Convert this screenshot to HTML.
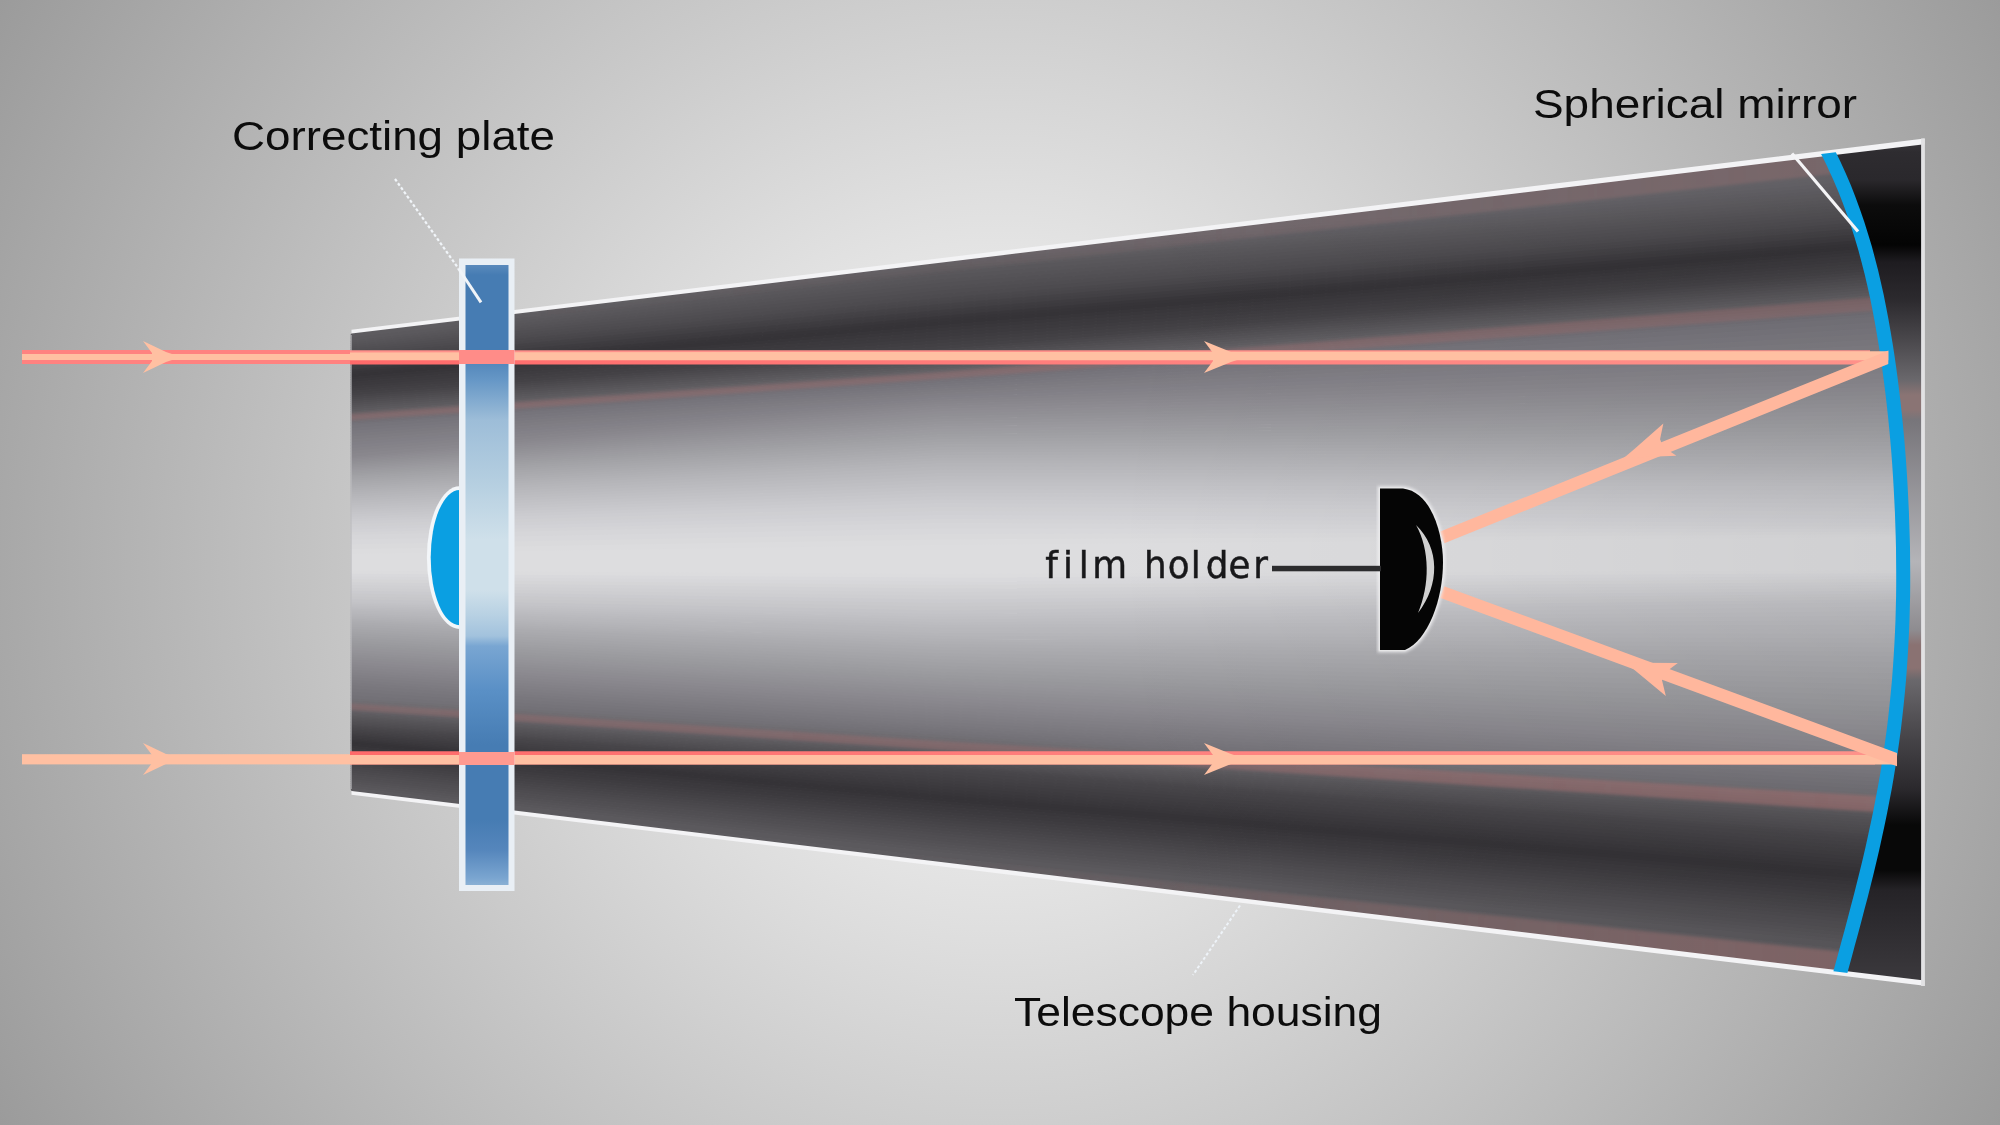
<!DOCTYPE html>
<html lang="en"><head><meta charset="utf-8"><title>Schmidt telescope</title>
<style>html,body{margin:0;padding:0;background:#b0b0b0}body{width:2000px;height:1125px;overflow:hidden}svg{display:block}</style>
</head><body>
<svg width="2000" height="1125" viewBox="0 0 2000 1125">
<defs>
<radialGradient id="bg" gradientUnits="userSpaceOnUse" cx="1000" cy="562" r="1147"><stop offset="0" stop-color="#ffffff"/><stop offset="1" stop-color="#9b9b9b"/></radialGradient>
<linearGradient id="bm" gradientUnits="userSpaceOnUse" x1="0" y1="140" x2="0" y2="985"><stop offset="0.0000" stop-color="#3c3a3e"/><stop offset="0.0142" stop-color="#2e2c30"/><stop offset="0.0473" stop-color="#2a282c"/><stop offset="0.0769" stop-color="#0c0c0c"/><stop offset="0.1243" stop-color="#040404"/><stop offset="0.1444" stop-color="#1e1c20"/><stop offset="0.1893" stop-color="#2c2a2e"/><stop offset="0.2367" stop-color="#4a484c"/><stop offset="0.2840" stop-color="#6a686c"/><stop offset="0.3018" stop-color="#8a7474"/><stop offset="0.3195" stop-color="#8a7474"/><stop offset="0.3314" stop-color="#77757a"/><stop offset="0.4994" stop-color="#b4b4b8"/><stop offset="0.5799" stop-color="#8e8c90"/><stop offset="0.5976" stop-color="#8a7272"/><stop offset="0.6249" stop-color="#8a7272"/><stop offset="0.6391" stop-color="#6a686c"/><stop offset="0.7101" stop-color="#454347"/><stop offset="0.7692" stop-color="#2a282c"/><stop offset="0.8107" stop-color="#080808"/><stop offset="0.8639" stop-color="#080808"/><stop offset="0.8876" stop-color="#252327"/><stop offset="1.0000" stop-color="#3c3a3e"/></linearGradient>
<linearGradient id="pl" gradientUnits="userSpaceOnUse" x1="0" y1="265" x2="0" y2="885"><stop offset="0.0000" stop-color="#5a8abc"/><stop offset="0.0161" stop-color="#467cb3"/><stop offset="0.1371" stop-color="#467cb3"/><stop offset="0.1855" stop-color="#6697c6"/><stop offset="0.2500" stop-color="#9dbdd8"/><stop offset="0.3468" stop-color="#b4cee0"/><stop offset="0.4435" stop-color="#cfe0ea"/><stop offset="0.5242" stop-color="#cfe0ea"/><stop offset="0.5645" stop-color="#b8d1e3"/><stop offset="0.5984" stop-color="#a2c2dd"/><stop offset="0.6145" stop-color="#79a6d2"/><stop offset="0.6855" stop-color="#5a90c6"/><stop offset="0.7742" stop-color="#467cb3"/><stop offset="0.8952" stop-color="#467cb3"/><stop offset="0.9435" stop-color="#5586bc"/><stop offset="0.9887" stop-color="#7aa5d0"/><stop offset="1.0000" stop-color="#8ab0d4"/></linearGradient>
<linearGradient id="pf" gradientUnits="userSpaceOnUse" x1="500" y1="0" x2="1900" y2="0"><stop offset="0" stop-color="#a87878" stop-opacity="0"/><stop offset="0.3" stop-color="#a87878" stop-opacity="0.06"/><stop offset="0.6" stop-color="#a87878" stop-opacity="0.2"/><stop offset="0.85" stop-color="#a87878" stop-opacity="0.33"/><stop offset="1" stop-color="#a87878" stop-opacity="0.38"/></linearGradient>
<linearGradient id="dk" gradientUnits="userSpaceOnUse" x1="1100" y1="0" x2="1900" y2="0"><stop offset="0" stop-color="#000" stop-opacity="0"/><stop offset="1" stop-color="#000" stop-opacity="0.06"/></linearGradient>
<linearGradient id="re" gradientUnits="userSpaceOnUse" x1="350" y1="0" x2="1890" y2="0"><stop offset="0" stop-color="#ff6a6a"/><stop offset="0.5" stop-color="#ff807e"/><stop offset="1" stop-color="#ff928a"/></linearGradient>
<linearGradient id="pl2" gradientUnits="userSpaceOnUse" x1="350" y1="0" x2="1890" y2="0"><stop offset="0" stop-color="#a87070" stop-opacity="0.34"/><stop offset="0.5" stop-color="#a87070" stop-opacity="0.4"/><stop offset="1" stop-color="#b07676" stop-opacity="0.55"/></linearGradient>
<linearGradient id="pfb" gradientUnits="userSpaceOnUse" x1="900" y1="0" x2="1900" y2="0"><stop offset="0" stop-color="#a47474" stop-opacity="0"/><stop offset="0.2" stop-color="#a47474" stop-opacity="0.1"/><stop offset="0.45" stop-color="#a47474" stop-opacity="0.3"/><stop offset="0.85" stop-color="#a47474" stop-opacity="0.52"/><stop offset="1" stop-color="#a47474" stop-opacity="0.56"/></linearGradient>
<filter id="bl" x="-5%" y="-5%" width="110%" height="110%"><feGaussianBlur stdDeviation="1.6"/></filter>
<filter id="bl2" x="-10%" y="-10%" width="120%" height="120%"><feGaussianBlur stdDeviation="0.7"/></filter>
<clipPath id="hc"><path d="M354 332.2 L1924 141.6 L1924 982.2 L354 792 Q350.5 791.5 350.5 788 L350.5 336 Q350.5 332.6 354 332.2z"/></clipPath>
</defs>
<rect width="2000" height="1125" fill="url(#bg)"/>
<g clip-path="url(#hc)">
<path fill="#67656a" d="M340 295.2L940 235.0L1932 129.6V172.7L940 255.8L340 320.4z"/>
<path fill="#666469" d="M340 319.6L940 255.0L1932 171.9V176.0L940 258.2L340 323.6z"/>
<path fill="#646267" d="M340 322.8L940 257.4L1932 175.2V179.3L940 260.7L340 326.8z"/>
<path fill="#626065" d="M340 326.0L940 259.9L1932 178.5V182.7L940 263.1L340 330.0z"/>
<path fill="#605e63" d="M340 329.2L940 262.3L1932 181.9V186.0L940 265.5L340 333.2z"/>
<path fill="#5f5d61" d="M340 332.4L940 264.7L1932 185.2V189.3L940 267.9L340 336.5z"/>
<path fill="#5d5b5f" d="M340 335.7L940 267.1L1932 188.5V192.6L940 270.4L340 339.7z"/>
<path fill="#5b595d" d="M340 338.9L940 269.6L1932 191.8V195.9L940 272.8L340 342.9z"/>
<path fill="#59575b" d="M340 342.1L940 272.0L1932 195.1V198.9L940 276.5L340 344.9z"/>
<path fill="#575559" d="M340 344.1L940 275.7L1932 198.1V201.9L940 280.2L340 346.9z"/>
<path fill="#555357" d="M340 346.1L940 279.4L1932 201.1V204.9L940 283.9L340 348.9z"/>
<path fill="#535155" d="M340 348.1L940 283.1L1932 204.1V207.9L940 287.7L340 350.8z"/>
<path fill="#514f53" d="M340 350.0L940 286.9L1932 207.1V210.9L940 291.4L340 352.8z"/>
<path fill="#4f4d51" d="M340 352.0L940 290.6L1932 210.1V214.0L940 295.1L340 354.8z"/>
<path fill="#4d4b4f" d="M340 354.0L940 294.3L1932 213.2V217.0L940 298.8L340 356.8z"/>
<path fill="#4a484c" d="M340 356.0L940 298.0L1932 216.2V220.0L940 301.8L340 359.3z"/>
<path fill="#48464a" d="M340 358.5L940 301.0L1932 219.2V223.0L940 304.8L340 361.7z"/>
<path fill="#444246" d="M340 360.9L940 304.0L1932 222.2V226.0L940 307.8L340 364.2z"/>
<path fill="#424044" d="M340 363.4L940 307.0L1932 225.2V229.0L940 310.8L340 366.6z"/>
<path fill="#3e3c40" d="M340 365.8L940 310.0L1932 228.2V232.0L940 313.8L340 369.1z"/>
<path fill="#3c3a3e" d="M340 368.3L940 313.0L1932 231.2V235.0L940 316.8L340 371.5z"/>
<path fill="#38363a" d="M340 370.7L940 316.0L1932 234.2V238.0L940 319.8L340 374.0z"/>
<path fill="#363438" d="M340 373.2L940 319.0L1932 237.2V241.0L940 322.8L340 376.4z"/>
<path fill="#353337" d="M340 375.6L940 322.0L1932 240.2V243.8L940 325.8L340 378.7z"/>
<path fill="#373539" d="M340 377.9L940 325.0L1932 243.0V246.7L940 328.8L340 381.0z"/>
<path fill="#39373b" d="M340 380.2L940 328.0L1932 245.9V249.5L940 331.8L340 383.3z"/>
<path fill="#3b393d" d="M340 382.5L940 331.0L1932 248.7V252.4L940 334.8L340 385.5z"/>
<path fill="#3c3a3e" d="M340 384.7L940 334.0L1932 251.6V255.3L940 337.8L340 387.8z"/>
<path fill="#3e3c40" d="M340 387.0L940 337.0L1932 254.5V258.1L940 340.8L340 390.1z"/>
<path fill="#403e42" d="M340 389.3L940 340.0L1932 257.3V261.0L940 343.8L340 392.3z"/>
<path fill="#424044" d="M340 391.5L940 343.0L1932 260.2V263.9L940 346.8L340 394.6z"/>
<path fill="#444246" d="M340 393.8L940 346.0L1932 263.1V266.7L940 349.8L340 396.9z"/>
<path fill="#474549" d="M340 396.1L940 349.0L1932 265.9V269.4L940 352.1L340 398.9z"/>
<path fill="#4a484c" d="M340 398.1L940 351.2L1932 268.6V272.2L940 354.3L340 400.8z"/>
<path fill="#4d4b4f" d="M340 400.0L940 353.5L1932 271.4V274.9L940 356.6L340 402.8z"/>
<path fill="#504e52" d="M340 402.0L940 355.8L1932 274.1V277.6L940 358.8L340 404.8z"/>
<path fill="#535155" d="M340 404.0L940 358.0L1932 276.8V280.3L940 361.1L340 406.8z"/>
<path fill="#565458" d="M340 406.0L940 360.2L1932 279.5V283.0L940 363.3L340 408.7z"/>
<path fill="#59575b" d="M340 407.9L940 362.5L1932 282.2V285.7L940 365.6L340 410.7z"/>
<path fill="#5c5a5e" d="M340 409.9L940 364.8L1932 284.9V288.4L940 367.8L340 412.7z"/>
<path fill="#5f5d61" d="M340 411.9L940 367.0L1932 287.6V291.2L940 369.5L340 414.2z"/>
<path fill="#626064" d="M340 413.4L940 368.7L1932 290.4V294.0L940 371.1L340 415.8z"/>
<path fill="#646267" d="M340 415.0L940 370.3L1932 293.2V296.7L940 372.8L340 417.3z"/>
<path fill="#67656a" d="M340 416.5L940 372.0L1932 295.9V299.5L940 374.5L340 418.9z"/>
<path fill="#6a686d" d="M340 418.1L940 373.7L1932 298.7V302.3L940 376.1L340 420.4z"/>
<path fill="#6c6a70" d="M340 419.6L940 375.3L1932 301.5V305.1L940 377.8L340 422.0z"/>
<path fill="#6f6d73" d="M340 421.2L940 377.0L1932 304.3V307.8L940 379.5L340 423.5z"/>
<path fill="#716f76" d="M340 422.7L940 378.7L1932 307.0V310.6L940 381.1L340 425.1z"/>
<path fill="#747279" d="M340 424.3L940 380.3L1932 309.8V313.4L940 382.8L340 426.6z"/>
<path fill="#76747b" d="M340 425.8L940 382.0L1932 312.6V319.3L940 385.0L340 429.5z"/>
<path fill="#78767d" d="M340 428.7L940 384.2L1932 318.5V325.2L940 387.2L340 432.4z"/>
<path fill="#7a787f" d="M340 431.6L940 386.4L1932 324.4V331.1L940 389.3L340 435.2z"/>
<path fill="#7c7a80" d="M340 434.4L940 388.5L1932 330.3V337.0L940 391.5L340 438.1z"/>
<path fill="#7e7c82" d="M340 437.3L940 390.7L1932 336.2V342.9L940 393.7L340 441.0z"/>
<path fill="#807e84" d="M340 440.2L940 392.9L1932 342.1V348.8L940 395.9L340 443.9z"/>
<path fill="#817f86" d="M340 443.1L940 395.1L1932 348.0V354.7L940 398.1L340 446.7z"/>
<path fill="#838188" d="M340 445.9L940 397.3L1932 353.9V360.6L940 400.3L340 449.6z"/>
<path fill="#858389" d="M340 448.8L940 399.5L1932 359.8V366.5L940 402.4L340 452.5z"/>
<path fill="#87858b" d="M340 451.7L940 401.6L1932 365.7V372.4L940 404.6L340 455.4z"/>
<path fill="#89878d" d="M340 454.6L940 403.8L1932 371.6V378.3L940 406.8L340 458.3z"/>
<path fill="#8b898f" d="M340 457.5L940 406.0L1932 377.5V382.3L940 409.3L340 459.8z"/>
<path fill="#8d8b91" d="M340 459.0L940 408.5L1932 381.5V386.4L940 411.9L340 461.3z"/>
<path fill="#8f8d93" d="M340 460.5L940 411.1L1932 385.6V390.5L940 414.4L340 462.8z"/>
<path fill="#908f94" d="M340 462.0L940 413.6L1932 389.7V394.5L940 417.0L340 464.4z"/>
<path fill="#929196" d="M340 463.6L940 416.2L1932 393.7V398.6L940 419.5L340 465.9z"/>
<path fill="#949398" d="M340 465.1L940 418.7L1932 397.8V402.7L940 422.0L340 467.4z"/>
<path fill="#96959a" d="M340 466.6L940 421.2L1932 401.9V406.7L940 424.6L340 469.0z"/>
<path fill="#98979c" d="M340 468.2L940 423.8L1932 405.9V410.8L940 427.1L340 470.5z"/>
<path fill="#9a999e" d="M340 469.7L940 426.3L1932 410.0V414.9L940 429.6L340 472.0z"/>
<path fill="#9c9ba0" d="M340 471.2L940 428.8L1932 414.1V418.9L940 432.2L340 473.5z"/>
<path fill="#9d9da1" d="M340 472.7L940 431.4L1932 418.1V423.0L940 434.7L340 475.1z"/>
<path fill="#9f9fa3" d="M340 474.3L940 433.9L1932 422.2V427.1L940 437.3L340 476.6z"/>
<path fill="#a1a1a5" d="M340 475.8L940 436.5L1932 426.3V431.1L940 439.8L340 478.1z"/>
<path fill="#a3a3a7" d="M340 477.3L940 439.0L1932 430.3V434.9L940 442.5L340 480.1z"/>
<path fill="#a5a5a9" d="M340 479.3L940 441.7L1932 434.1V438.7L940 445.1L340 482.0z"/>
<path fill="#a7a7ab" d="M340 481.2L940 444.3L1932 437.9V442.4L940 447.8L340 483.9z"/>
<path fill="#a9a9ad" d="M340 483.1L940 447.0L1932 441.6V446.2L940 450.5L340 485.9z"/>
<path fill="#ababaf" d="M340 485.1L940 449.7L1932 445.4V450.0L940 453.1L340 487.8z"/>
<path fill="#adadb1" d="M340 487.0L940 452.3L1932 449.2V453.7L940 455.8L340 489.7z"/>
<path fill="#afafb3" d="M340 488.9L940 455.0L1932 452.9V457.5L940 458.5L340 491.7z"/>
<path fill="#b1b1b5" d="M340 490.9L940 457.7L1932 456.7V461.3L940 461.1L340 493.6z"/>
<path fill="#b3b3b7" d="M340 492.8L940 460.3L1932 460.5V465.0L940 463.8L340 495.6z"/>
<path fill="#b5b5b9" d="M340 494.8L940 463.0L1932 464.2V468.1L940 467.1L340 497.7z"/>
<path fill="#b7b7bb" d="M340 496.9L940 466.3L1932 467.3V471.3L940 470.4L340 499.9z"/>
<path fill="#b9b9bd" d="M340 499.1L940 469.6L1932 470.5V474.4L940 473.7L340 502.1z"/>
<path fill="#bbbbbf" d="M340 501.3L940 472.9L1932 473.6V477.5L940 476.9L340 504.3z"/>
<path fill="#bdbdc1" d="M340 503.5L940 476.1L1932 476.7V480.6L940 480.2L340 506.5z"/>
<path fill="#bfbfc3" d="M340 505.7L940 479.4L1932 479.8V483.7L940 483.5L340 508.7z"/>
<path fill="#c1c1c5" d="M340 507.9L940 482.7L1932 482.9V486.8L940 486.8L340 510.9z"/>
<path fill="#c3c3c7" d="M340 510.1L940 486.0L1932 486.0V491.2L940 490.2L340 513.2z"/>
<path fill="#c5c5c9" d="M340 512.4L940 489.4L1932 490.4V495.6L940 493.6L340 515.5z"/>
<path fill="#c7c7cb" d="M340 514.7L940 492.8L1932 494.8V500.0L940 497.0L340 517.8z"/>
<path fill="#c9c9cd" d="M340 517.0L940 496.2L1932 499.2V504.4L940 500.4L340 520.1z"/>
<path fill="#cbcbcf" d="M340 519.3L940 499.6L1932 503.6V508.8L940 503.8L340 522.4z"/>
<path fill="#cdcdd1" d="M340 521.6L940 503.0L1932 508.0V512.5L940 507.8L340 525.1z"/>
<path fill="#cfcfd2" d="M340 524.3L940 507.0L1932 511.7V516.3L940 511.8L340 527.8z"/>
<path fill="#d0d0d4" d="M340 527.0L940 511.0L1932 515.5V520.0L940 515.8L340 530.5z"/>
<path fill="#d2d2d6" d="M340 529.7L940 515.0L1932 519.2V523.8L940 519.8L340 533.2z"/>
<path fill="#d4d4d7" d="M340 532.4L940 519.0L1932 523.0V527.5L940 523.8L340 535.8z"/>
<path fill="#d6d6d9" d="M340 535.0L940 523.0L1932 526.7V529.9L940 529.3L340 540.5z"/>
<path fill="#d8d8db" d="M340 539.7L940 528.5L1932 529.1V532.3L940 534.8L340 545.2z"/>
<path fill="#dadadc" d="M340 544.4L940 534.0L1932 531.5V534.7L940 540.3L340 549.9z"/>
<path fill="#dcdcde" d="M340 549.1L940 539.5L1932 533.9V537.1L940 545.8L340 554.6z"/>
<path fill="#dddddf" d="M340 553.8L940 545.0L1932 536.3V571.1L940 574.8L340 571.5z"/>
<path fill="#dcdcde" d="M340 570.7L940 574.0L1932 570.3V573.9L940 578.4L340 574.4z"/>
<path fill="#d9d9dc" d="M340 573.6L940 577.6L1932 573.1V576.8L940 582.1L340 577.2z"/>
<path fill="#d7d7da" d="M340 576.4L940 581.3L1932 576.0V579.6L940 585.7L340 580.0z"/>
<path fill="#d5d5d7" d="M340 579.2L940 584.9L1932 578.8V582.5L940 589.3L340 582.9z"/>
<path fill="#d2d2d5" d="M340 582.1L940 588.5L1932 581.7V585.3L940 593.0L340 585.7z"/>
<path fill="#d0d0d3" d="M340 584.9L940 592.2L1932 584.5V588.2L940 596.6L340 588.6z"/>
<path fill="#ceced1" d="M340 587.8L940 595.8L1932 587.4V591.0L940 600.3L340 591.4z"/>
<path fill="#cbcbcf" d="M340 590.6L940 599.5L1932 590.2V593.9L940 603.9L340 594.2z"/>
<path fill="#c9c9cc" d="M340 593.4L940 603.1L1932 593.1V596.7L940 607.5L340 597.1z"/>
<path fill="#c7c7ca" d="M340 596.3L940 606.7L1932 595.9V599.6L940 611.2L340 599.9z"/>
<path fill="#c4c4c8" d="M340 599.1L940 610.4L1932 598.8V602.4L940 614.8L340 602.8z"/>
<path fill="#c2c2c6" d="M340 602.0L940 614.0L1932 601.6V607.0L940 617.5L340 604.4z"/>
<path fill="#c0c0c4" d="M340 603.6L940 616.8L1932 606.2V611.6L940 620.3L340 606.1z"/>
<path fill="#bebec2" d="M340 605.3L940 619.5L1932 610.8V616.2L940 623.0L340 607.7z"/>
<path fill="#bcbcc0" d="M340 606.9L940 622.2L1932 615.4V620.8L940 625.8L340 609.4z"/>
<path fill="#bababe" d="M340 608.6L940 625.0L1932 620.0V625.4L940 628.5L340 611.0z"/>
<path fill="#b8b8bc" d="M340 610.2L940 627.8L1932 624.6V630.1L940 631.3L340 612.7z"/>
<path fill="#b7b7bb" d="M340 611.9L940 630.5L1932 629.3V634.7L940 634.0L340 614.3z"/>
<path fill="#b5b5b9" d="M340 613.5L940 633.2L1932 633.9V639.3L940 636.8L340 616.0z"/>
<path fill="#b3b3b7" d="M340 615.2L940 636.0L1932 638.5V643.9L940 639.5L340 617.7z"/>
<path fill="#b1b1b5" d="M340 616.9L940 638.8L1932 643.1V648.5L940 642.3L340 619.3z"/>
<path fill="#afafb3" d="M340 618.5L940 641.5L1932 647.7V653.1L940 645.0L340 621.0z"/>
<path fill="#adadb1" d="M340 620.2L940 644.2L1932 652.3V657.7L940 647.8L340 622.6z"/>
<path fill="#ababaf" d="M340 621.8L940 647.0L1932 656.9V663.4L940 650.9L340 624.9z"/>
<path fill="#a9a9ad" d="M340 624.1L940 650.1L1932 662.6V669.2L940 654.0L340 627.1z"/>
<path fill="#a7a7ab" d="M340 626.3L940 653.2L1932 668.4V674.9L940 657.1L340 629.4z"/>
<path fill="#a5a5a9" d="M340 628.6L940 656.3L1932 674.1V680.6L940 660.2L340 631.7z"/>
<path fill="#a3a3a7" d="M340 630.9L940 659.4L1932 679.8V686.4L940 663.4L340 633.9z"/>
<path fill="#a1a1a5" d="M340 633.1L940 662.6L1932 685.6V692.1L940 666.5L340 636.2z"/>
<path fill="#9f9fa3" d="M340 635.4L940 665.7L1932 691.3V697.8L940 669.6L340 638.4z"/>
<path fill="#9d9da1" d="M340 637.6L940 668.8L1932 697.0V703.6L940 672.7L340 640.7z"/>
<path fill="#9b9b9f" d="M340 639.9L940 671.9L1932 702.8V709.3L940 675.8L340 643.0z"/>
<path fill="#99999d" d="M340 642.2L940 675.0L1932 708.5V714.1L940 678.7L340 645.4z"/>
<path fill="#97979b" d="M340 644.6L940 677.9L1932 713.3V718.9L940 681.6L340 647.8z"/>
<path fill="#96959a" d="M340 647.0L940 680.8L1932 718.1V723.7L940 684.5L340 650.2z"/>
<path fill="#949398" d="M340 649.4L940 683.7L1932 722.9V728.6L940 687.4L340 652.6z"/>
<path fill="#929196" d="M340 651.8L940 686.6L1932 727.8V733.4L940 690.2L340 655.0z"/>
<path fill="#908f94" d="M340 654.2L940 689.4L1932 732.6V738.2L940 693.1L340 657.4z"/>
<path fill="#8e8d92" d="M340 656.6L940 692.3L1932 737.4V743.0L940 696.0L340 659.8z"/>
<path fill="#8d8b91" d="M340 659.0L940 695.2L1932 742.2V747.8L940 698.9L340 662.2z"/>
<path fill="#8b898f" d="M340 661.4L940 698.1L1932 747.0V752.6L940 701.8L340 664.6z"/>
<path fill="#89878d" d="M340 663.8L940 701.0L1932 751.8V756.3L940 704.8L340 667.2z"/>
<path fill="#87858b" d="M340 666.4L940 704.0L1932 755.5V759.9L940 707.8L340 669.8z"/>
<path fill="#858389" d="M340 669.0L940 707.0L1932 759.1V763.5L940 710.8L340 672.3z"/>
<path fill="#838187" d="M340 671.5L940 710.0L1932 762.7V767.1L940 713.8L340 674.9z"/>
<path fill="#817f85" d="M340 674.1L940 713.0L1932 766.3V770.7L940 716.8L340 677.5z"/>
<path fill="#7f7d83" d="M340 676.7L940 716.0L1932 769.9V774.4L940 719.8L340 680.1z"/>
<path fill="#7d7b81" d="M340 679.3L940 719.0L1932 773.6V778.0L940 722.8L340 682.7z"/>
<path fill="#7b797f" d="M340 681.9L940 722.0L1932 777.2V781.6L940 725.8L340 685.3z"/>
<path fill="#79777d" d="M340 684.5L940 725.0L1932 780.8V785.6L940 728.3L340 688.6z"/>
<path fill="#77757b" d="M340 687.8L940 727.5L1932 784.8V789.7L940 730.8L340 691.9z"/>
<path fill="#757379" d="M340 691.1L940 730.0L1932 788.9V793.8L940 733.3L340 695.3z"/>
<path fill="#737177" d="M340 694.5L940 732.5L1932 793.0V797.8L940 735.8L340 698.6z"/>
<path fill="#716f74" d="M340 697.8L940 735.0L1932 797.0V800.4L940 738.2L340 700.7z"/>
<path fill="#6e6c71" d="M340 699.9L940 737.4L1932 799.6V803.0L940 740.7L340 702.8z"/>
<path fill="#6b696e" d="M340 702.0L940 739.9L1932 802.2V805.6L940 743.1L340 704.9z"/>
<path fill="#68666b" d="M340 704.1L940 742.3L1932 804.8V808.2L940 745.5L340 707.0z"/>
<path fill="#656368" d="M340 706.2L940 744.7L1932 807.4V810.8L940 747.9L340 709.2z"/>
<path fill="#626065" d="M340 708.4L940 747.1L1932 810.0V813.4L940 750.4L340 711.3z"/>
<path fill="#5f5d62" d="M340 710.5L940 749.6L1932 812.6V816.0L940 752.8L340 713.4z"/>
<path fill="#5d5b5f" d="M340 712.6L940 752.0L1932 815.2V819.0L940 754.4L340 714.9z"/>
<path fill="#5b595d" d="M340 714.1L940 753.6L1932 818.2V822.0L940 756.0L340 716.4z"/>
<path fill="#58565a" d="M340 715.6L940 755.2L1932 821.2V824.9L940 757.6L340 717.9z"/>
<path fill="#565458" d="M340 717.1L940 756.8L1932 824.1V827.9L940 759.2L340 719.3z"/>
<path fill="#545256" d="M340 718.5L940 758.4L1932 827.1V830.9L940 760.8L340 720.8z"/>
<path fill="#525054" d="M340 720.0L940 760.0L1932 830.1V833.8L940 762.4L340 722.3z"/>
<path fill="#504e52" d="M340 721.5L940 761.6L1932 833.0V836.8L940 764.0L340 723.8z"/>
<path fill="#4e4c50" d="M340 723.0L940 763.2L1932 836.0V839.8L940 765.6L340 725.3z"/>
<path fill="#4b494d" d="M340 724.5L940 764.8L1932 839.0V842.7L940 767.2L340 726.8z"/>
<path fill="#49474b" d="M340 726.0L940 766.4L1932 841.9V845.7L940 768.8L340 728.3z"/>
<path fill="#474549" d="M340 727.5L940 768.0L1932 844.9V849.3L940 771.8L340 729.8z"/>
<path fill="#454347" d="M340 729.0L940 771.0L1932 848.5V852.9L940 774.8L340 731.2z"/>
<path fill="#434145" d="M340 730.4L940 774.0L1932 852.1V856.5L940 777.8L340 732.7z"/>
<path fill="#413f43" d="M340 731.9L940 777.0L1932 855.7V860.2L940 780.8L340 734.2z"/>
<path fill="#3f3d41" d="M340 733.4L940 780.0L1932 859.4V863.8L940 783.8L340 735.6z"/>
<path fill="#3d3b3f" d="M340 734.8L940 783.0L1932 863.0V867.4L940 786.8L340 737.1z"/>
<path fill="#3b393d" d="M340 736.3L940 786.0L1932 866.6V871.0L940 789.8L340 738.6z"/>
<path fill="#39373b" d="M340 737.8L940 789.0L1932 870.2V874.6L940 792.8L340 740.0z"/>
<path fill="#373539" d="M340 739.2L940 792.0L1932 873.8V878.3L940 795.8L340 741.5z"/>
<path fill="#353337" d="M340 740.7L940 795.0L1932 877.5V881.9L940 798.8L340 743.0z"/>
<path fill="#353337" d="M340 742.2L940 798.0L1932 881.1V885.4L940 801.5L340 745.3z"/>
<path fill="#373539" d="M340 744.5L940 800.7L1932 884.6V888.9L940 804.1L340 747.6z"/>
<path fill="#39373b" d="M340 746.8L940 803.3L1932 888.1V892.4L940 806.8L340 749.9z"/>
<path fill="#3b393d" d="M340 749.1L940 806.0L1932 891.6V895.9L940 809.5L340 752.2z"/>
<path fill="#3c3a3e" d="M340 751.4L940 808.7L1932 895.1V899.3L940 812.1L340 754.5z"/>
<path fill="#3e3c40" d="M340 753.7L940 811.3L1932 898.5V902.8L940 814.8L340 756.8z"/>
<path fill="#403e42" d="M340 756.0L940 814.0L1932 902.0V906.3L940 817.5L340 759.1z"/>
<path fill="#424044" d="M340 758.3L940 816.7L1932 905.5V909.8L940 820.1L340 761.4z"/>
<path fill="#444246" d="M340 760.6L940 819.3L1932 909.0V913.3L940 822.8L340 763.7z"/>
<path fill="#464448" d="M340 762.9L940 822.0L1932 912.5V916.8L940 825.5L340 765.8z"/>
<path fill="#48464a" d="M340 765.0L940 824.7L1932 916.0V920.4L940 828.3L340 767.9z"/>
<path fill="#4a484c" d="M340 767.1L940 827.5L1932 919.6V923.9L940 831.0L340 770.1z"/>
<path fill="#4c4a4e" d="M340 769.3L940 830.2L1932 923.1V927.4L940 833.7L340 772.2z"/>
<path fill="#4e4c50" d="M340 771.4L940 832.9L1932 926.6V930.9L940 836.4L340 774.3z"/>
<path fill="#504e52" d="M340 773.5L940 835.6L1932 930.1V934.4L940 839.2L340 776.5z"/>
<path fill="#514f53" d="M340 775.7L940 838.4L1932 933.6V937.9L940 841.9L340 778.6z"/>
<path fill="#535155" d="M340 777.8L940 841.1L1932 937.1V941.5L940 844.6L340 780.7z"/>
<path fill="#555357" d="M340 779.9L940 843.8L1932 940.7V945.0L940 847.3L340 782.8z"/>
<path fill="#575559" d="M340 782.0L940 846.5L1932 944.2V948.5L940 850.1L340 785.0z"/>
<path fill="#59575b" d="M340 784.2L940 849.3L1932 947.7V952.0L940 852.8L340 787.1z"/>
<path fill="#5b595d" d="M340 786.3L940 852.0L1932 951.2V958.2L940 857.8L340 791.0z"/>
<path fill="#5d5b5f" d="M340 790.2L940 857.0L1932 957.4V964.5L940 862.8L340 794.9z"/>
<path fill="#5e5c60" d="M340 794.1L940 862.0L1932 963.7V1003.6L940 885.8L340 809.2z"/>
<g filter="url(#bl)">
<path fill="#a87070" fill-opacity="0.36" d="M340 414.7L940 372.0L1932 292.6V306.5L940 379.0L340 421.2z"/>
<path fill="url(#pl2)"  d="M340 702.7L940 741.0L1932 799.3V815.7L940 750.0L340 709.5z"/>
<path fill="url(#pf)"  d="M340 305.7L940 240.0L1932 116.0V162.9L940 272.0L340 338.8z"/>
<path fill="url(#pfb)"  d="M340 791.2L940 858.0L1932 960.9V1014.0L940 890.0L340 813.4z"/>
</g>
<rect x="1100" y="100" width="850" height="920" fill="url(#dk)"/>
<path fill="url(#bm)" d="M1814.6 128 L1821.5 140 L1827.9 152 L1833.8 164 L1839.3 176 L1844.4 188 L1849.1 200 L1853.5 212 L1857.6 224 L1861.4 236 L1865.0 248 L1868.2 260 L1871.3 272 L1874.1 284 L1876.8 296 L1879.2 308 L1881.5 320 L1883.6 332 L1885.6 344 L1887.5 356 L1889.2 368 L1890.8 380 L1892.3 392 L1893.7 404 L1895.0 416 L1896.2 428 L1897.3 440 L1898.3 452 L1899.2 464 L1900.0 476 L1900.7 488 L1901.3 500 L1901.9 512 L1902.3 524 L1902.7 536 L1903.0 548 L1903.1 560 L1903.2 572 L1903.2 584 L1903.1 596 L1902.8 608 L1902.5 620 L1902.0 632 L1901.4 644 L1900.7 656 L1899.9 668 L1899.0 680 L1897.9 692 L1896.7 704 L1895.4 716 L1894.0 728 L1892.4 740 L1890.7 752 L1888.8 764 L1886.9 776 L1884.8 788 L1882.5 800 L1880.2 812 L1877.7 824 L1875.1 836 L1872.5 848 L1869.7 860 L1866.8 872 L1863.8 884 L1860.8 896 L1857.6 908 L1854.5 920 L1851.3 932 L1848.0 944 L1844.8 956 L1841.5 968 L1838.3 980 L1835.1 992 L1940 990 L1940 130z"/>
</g>
<path d="M351.5 329.8 L1924.5 138.6 V144.2 L351.5 333.6z M351.5 790.9 L1924.5 980.6 V985.8 L351.5 794.7z" fill="#f3f3f5"/>
<path d="M1923 138.5 V986" fill="none" stroke="#e2e2e4" stroke-width="3.8"/>
<path d="M351 335 V789" fill="none" stroke="#bdbdbf" stroke-width="1.2"/>
<clipPath id="bc"><rect x="400" y="470" width="60" height="180"/></clipPath>
<g clip-path="url(#bc)"><ellipse cx="459.5" cy="557.6" rx="32.6" ry="71.4" fill="#f3f6f9" filter="url(#bl2)"/><ellipse cx="459.5" cy="557.6" rx="28.8" ry="67.6" fill="#0a9fe2"/></g>
<g clip-path="url(#hc)"><path d="M1814.6 128 L1821.5 140 L1827.9 152 L1833.8 164 L1839.3 176 L1844.4 188 L1849.1 200 L1853.5 212 L1857.6 224 L1861.4 236 L1865.0 248 L1868.2 260 L1871.3 272 L1874.1 284 L1876.8 296 L1879.2 308 L1881.5 320 L1883.6 332 L1885.6 344 L1887.5 356 L1889.2 368 L1890.8 380 L1892.3 392 L1893.7 404 L1895.0 416 L1896.2 428 L1897.3 440 L1898.3 452 L1899.2 464 L1900.0 476 L1900.7 488 L1901.3 500 L1901.9 512 L1902.3 524 L1902.7 536 L1903.0 548 L1903.1 560 L1903.2 572 L1903.2 584 L1903.1 596 L1902.8 608 L1902.5 620 L1902.0 632 L1901.4 644 L1900.7 656 L1899.9 668 L1899.0 680 L1897.9 692 L1896.7 704 L1895.4 716 L1894.0 728 L1892.4 740 L1890.7 752 L1888.8 764 L1886.9 776 L1884.8 788 L1882.5 800 L1880.2 812 L1877.7 824 L1875.1 836 L1872.5 848 L1869.7 860 L1866.8 872 L1863.8 884 L1860.8 896 L1857.6 908 L1854.5 920 L1851.3 932 L1848.0 944 L1844.8 956 L1841.5 968 L1838.3 980 L1835.1 992" fill="none" stroke="#0a9fe2" stroke-width="14"/></g>
<rect x="22" y="350" width="328" height="14" fill="#ff8280"/><rect x="22" y="354" width="328" height="6" fill="#ffc0a2"/>
<path d="M350 350.2 H1870 V357 H350z" fill="#ff908a"/><path d="M350 357 H1870 V364.4 H350z" fill="url(#re)"/><path d="M350 352.4 L1888.3 351.2 V360.3 H350z" fill="#ffc0a2"/>
<rect x="22" y="754.2" width="330" height="10.2" fill="#ffc0a2"/>
<path d="M350 751.3 H1875 V764.4 H350z" fill="url(#re)"/><path d="M350 755 H1897 V764.4 H350z" fill="#ffc0a2"/>
<clipPath id="rc"><path d="M1300 300 H1888.3 V500 L1897 620 V800 H1300z"/></clipPath>
<g clip-path="url(#rc)"><path d="M1901 352.2 L1442 537.5 M1908 763.6 L1442 592" stroke="#ffb79d" stroke-width="12.5" fill="none"/></g>
<rect x="459" y="258.5" width="55.5" height="632.5" fill="#e9eff5"/>
<rect x="465.5" y="265" width="43" height="620" fill="url(#pl)"/>
<rect x="459" y="350" width="55.5" height="14" fill="#ff8c88"/>
<rect x="459" y="752" width="55.5" height="13" fill="#ff9a90"/>
<path transform="translate(178 357) rotate(0)" fill="#ffc0a2" d="M3 0 L-12 -5 L-35 -16 L-26 -4 L-26 4 L-35 16 L-12 5z"/>
<path transform="translate(1243 357) rotate(0)" fill="#ffc0a2" d="M3 0 L-12 -5 L-39 -16 L-30 -4 L-30 4 L-39 16 L-12 5z"/>
<path transform="translate(178 759) rotate(0)" fill="#ffc0a2" d="M3 0 L-12 -5 L-35 -16 L-26 -4 L-26 4 L-35 16 L-12 5z"/>
<path transform="translate(1243 759) rotate(0)" fill="#ffc0a2" d="M3 0 L-12 -5 L-39 -16 L-30 -4 L-30 4 L-39 16 L-12 5z"/>
<path transform="translate(1626.3 457.2) rotate(158.051)" fill="#ffb79d" d="M3 0 L-12 -5 L-47 -17.5 L-38 -4 L-38 4 L-47 17.5 L-12 5z"/>
<path transform="translate(1627.7 663.4) rotate(-159.897)" fill="#ffb79d" d="M3 0 L-12 -5 L-47 -17.5 L-38 -4 L-38 4 L-47 17.5 L-12 5z"/>
<path d="M1792 153.5 L1858 231.5" stroke="#f4f4f6" stroke-width="3.2" fill="none"/>
<path d="M1380 488.5 H1403 C1432 492 1443 535 1443 562 C1443 600 1428 640 1405 650 H1380z" fill="none" stroke="#f2f2f4" stroke-opacity="0.75" stroke-width="5" filter="url(#bl)"/>
<path d="M1380 488.5 H1403 C1432 492 1443 535 1443 562 C1443 600 1428 640 1405 650 H1380z" fill="#050505" stroke="#e8e8ea" stroke-opacity="0.8" stroke-width="2.5" paint-order="stroke"/>
<path d="M1416 525 C1440 548 1440 585 1418 613 C1430 585 1430 550 1416 525z" fill="#d0d0d0"/>
<rect x="1272" y="565.8" width="109" height="5.5" fill="#2c2c2e"/>
<path d="M395 179 L458.5 268.5" stroke="#f1f5f9" stroke-width="2.2" stroke-dasharray="3 2.2" fill="none"/>
<path d="M458.5 268.5 L481 302.3" stroke="#f0f4f8" stroke-width="3" fill="none"/>
<path d="M1240 905.5 L1193 975" stroke="#eef3f8" stroke-width="2" stroke-dasharray="3 2.2" fill="none"/>
<g opacity="0.996">
<text x="232" y="150.4" font-size="41.5" font-family="'Liberation Sans', sans-serif" fill="#0c0c0c" textLength="323" lengthAdjust="spacingAndGlyphs">Correcting plate</text>
<text x="1533" y="118.4" font-size="41.5" font-family="'Liberation Sans', sans-serif" fill="#0c0c0c" textLength="324" lengthAdjust="spacingAndGlyphs">Spherical mirror</text>
<text x="1014" y="1026.4" font-size="41.5" font-family="'Liberation Sans', sans-serif" fill="#0c0c0c" textLength="368" lengthAdjust="spacingAndGlyphs">Telescope housing</text>
<g transform="scale(0.94 1)"><text y="578" font-size="38" font-family="'DejaVu Sans', 'Liberation Sans', sans-serif" fill="#18181a" stroke="#18181a" stroke-width="0.5" style="font-variant-ligatures:none" x="1112.0 1130.9 1147.6 1162.1 1201.2 1216.9 1242.2 1266.8 1282.7 1306.9 1333.3">film holder</text></g>
</g>
</svg>
</body></html>
